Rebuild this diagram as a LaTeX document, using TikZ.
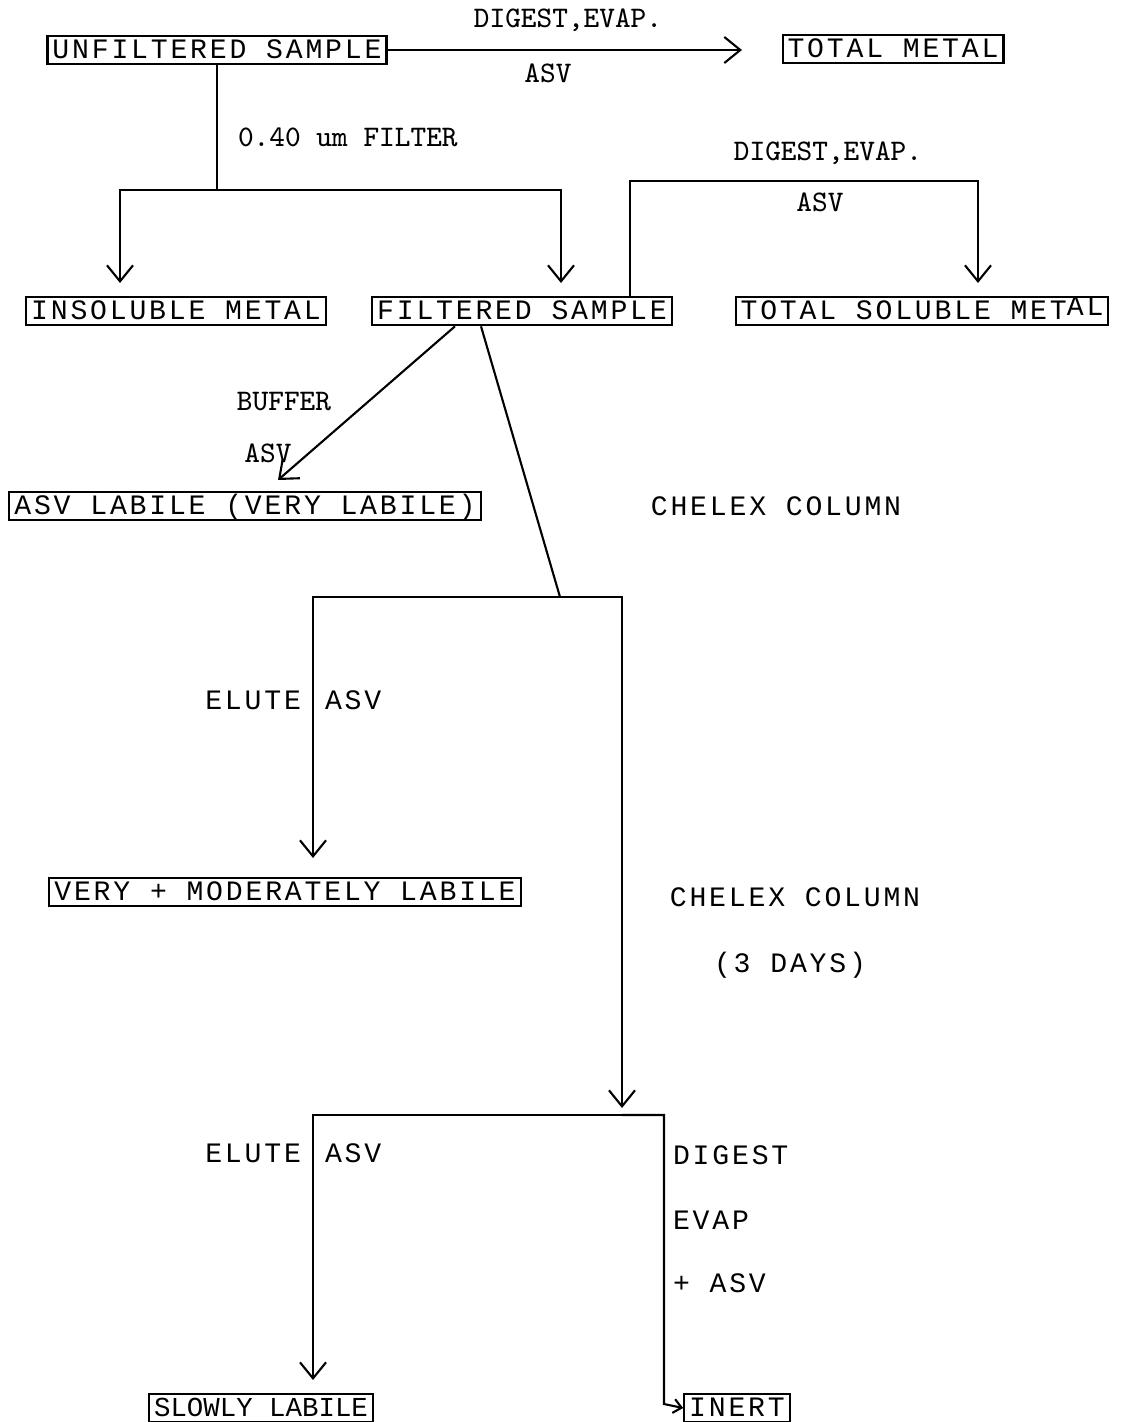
\documentclass[tikz,border=0pt]{standalone}
\usepackage{fontspec}
\newfontfamily\typefont[LetterSpace=10]{Liberation Mono}
\newfontfamily\narrowfont{Liberation Mono}
\usetikzlibrary{arrows.meta}
\begin{document}
\begin{tikzpicture}[
x=0.1mm,y=-0.1mm,
line width=0.6pt,
>={Straight Barb[length=1.6mm,width=2.6mm]},
box/.style={draw,rectangle,font=\typefont\fontsize{8}{9}\selectfont,inner xsep=0.5mm,inner ysep=0.3mm,text height=1.95mm,text depth=0.3mm},
lbl/.style={font=\ttfamily\fontsize{8.5}{10}\selectfont,inner sep=0pt},
word/.style={font=\typefont\fontsize{8}{9}\selectfont,inner sep=0pt}
]
\useasboundingbox (0,0) rectangle (1124,1422);
\node[box] (unf) at (217,50) {UNFILTERED SAMPLE};
\node[box] (tot) at (893,49) {TOTAL METAL};
\node[box] (ins) at (176,311) {INSOLUBLE METAL};
\node[box] (fil) at (522,311) {FILTERED SAMPLE};
\node[box] (sol) at (922,311) {TOTAL SOLUBLE MET\raisebox{0.4mm}{AL}\hspace{2mm}};
\node[box] (asv) at (245,506) {ASV LABILE (VERY LABILE)};
\node[box] (vml) at (285,892) {VERY + MODERATELY LABILE};
\node[box,font=\narrowfont\fontsize{7.8}{9}\selectfont] (slo) at (261,1408) {SLOWLY LABILE};
\node[box] (inert) at (737,1408) {INERT};
\node[lbl] (d1) at (568,20) {DIGEST,EVAP.};
\node[lbl] (a1) at (548,73) {ASV};
\node[lbl,anchor=west] (flt) at (237,137) {0.40 um FILTER};
\node[lbl] (d2) at (828,153) {DIGEST,EVAP.};
\node[lbl] (a2) at (820,202) {ASV};
\node[lbl] (buf) at (284,402) {BUFFER};
\node[lbl] (a3) at (268,453) {ASV};
\node[word] (chx1) at (776,506) {CHELEX COLUMN};
\node[word,anchor=east] (el1) at (302,700) {ELUTE};
\node[word,anchor=west] (as1) at (324,700) {ASV};
\node[word] (chx2) at (795,897) {CHELEX COLUMN};
\node[word] (day) at (790,965) {(3 DAYS)};
\node[word,anchor=east] (el2) at (302,1153) {ELUTE};
\node[word,anchor=west] (as2) at (324,1153) {ASV};
\node[word,anchor=west] (dg) at (672,1155) {DIGEST};
\node[word,anchor=west] (ev) at (672,1220) {EVAP};
\node[word,anchor=west] (pa) at (672,1283) {+ ASV};
\coordinate (tm) at (742,50);
\coordinate (j1) at (217,190);
\coordinate (ja) at (120,283);
\coordinate (jb) at (561,283);
\coordinate (sa) at (978,283);
\coordinate (bt) at (278,480);
\coordinate (c1) at (560,597);
\coordinate (c1l) at (313,858);
\coordinate (c1r) at (622,1108);
\coordinate (c2) at (622,1115);
\coordinate (c2l) at (313,1380);
\coordinate (c2r) at (664,1404);
\draw[->] (unf.east) -- (tm);
\draw (unf.south) -- (j1);
\draw[->] (j1) -| (ja);
\draw[->] (j1) -| (jb);
\draw[->] ([xshift=10.8mm]fil.north) -- ++(0,-115) -| (sa);
\draw[->] ([xshift=-6.7mm]fil.south) -- (bt);
\draw ([xshift=-4.1mm]fil.south) -- (c1);
\draw[->] (c1) -| (c1l);
\draw[->] (c1) -| (c1r);
\draw[->] (c2) -| (c2l);
\draw[-{Straight Barb[length=0.8mm,width=1.4mm]}] (c2) -| (c2r) -- (inert.west);
\end{tikzpicture}
\end{document}
